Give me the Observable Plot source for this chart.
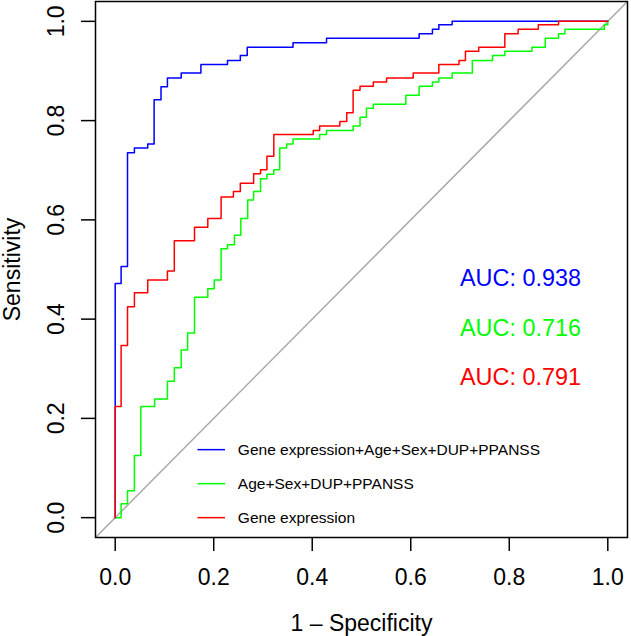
<!DOCTYPE html>
<html>
<head>
<meta charset="utf-8">
<script src="https://cdn.jsdelivr.net/npm/d3@7"></script>
<script src="https://cdn.jsdelivr.net/npm/@observablehq/plot@0.6"></script>
<style>
  html, body { margin: 0; padding: 0; background: #ffffff; }
</style>
</head>
<body>
<div id="chart"></div>
<script>
// ---- Data ----
const seriesNames = ["Gene expression+Age+Sex+DUP+PPANSS", "Age+Sex+DUP+PPANSS", "Gene expression"];
const seriesColors = ["#0000FF", "#00FF00", "#FF0000"];
const aucValues = [0.938, 0.716, 0.791];
const tickValues = [0, 0.2, 0.4, 0.6, 0.8, 1.0];

// ROC step corners (1 - specificity, sensitivity)
const fullFpr  = [0, 0.012, 0.025, 0.039, 0.066, 0.079, 0.093, 0.106, 0.134, 0.174, 0.228, 0.254, 0.268, 0.361, 0.429, 0.617, 0.644, 0.657, 0.684, 1.0];
const fullSens = [0, 0.472, 0.506, 0.735, 0.745, 0.753, 0.842, 0.868, 0.886, 0.896, 0.913, 0.921, 0.931, 0.948, 0.957, 0.966, 0.975, 0.984, 0.993, 1.0];

const clinFpr  = [0, 0.012, 0.025, 0.039, 0.052, 0.080, 0.106, 0.120, 0.134, 0.147, 0.161, 0.188, 0.201, 0.215, 0.228, 0.242, 0.255, 0.269, 0.281, 0.295, 0.308, 0.322, 0.334, 0.348, 0.361, 0.415, 0.429, 0.483, 0.497, 0.510, 0.524, 0.590, 0.617, 0.644, 0.657, 0.684, 0.725, 0.766, 0.791, 0.846, 0.873, 0.900, 0.913, 0.993, 1.0, 1.0];
const clinSens = [0, 0, 0.028, 0.054, 0.125, 0.224, 0.239, 0.275, 0.302, 0.338, 0.372, 0.444, 0.461, 0.479, 0.542, 0.550, 0.569, 0.603, 0.640, 0.657, 0.683, 0.692, 0.701, 0.745, 0.753, 0.763, 0.772, 0.780, 0.789, 0.807, 0.825, 0.833, 0.851, 0.869, 0.878, 0.886, 0.896, 0.921, 0.931, 0.940, 0.948, 0.966, 0.975, 0.984, 0.993, 1.0];

const geneFpr  = [0, 0.012, 0.025, 0.039, 0.066, 0.106, 0.120, 0.161, 0.188, 0.215, 0.240, 0.254, 0.281, 0.295, 0.308, 0.322, 0.402, 0.415, 0.456, 0.470, 0.483, 0.497, 0.524, 0.551, 0.605, 0.657, 0.698, 0.711, 0.738, 0.791, 0.818, 0.859, 0.900, 1.0];
const geneSens = [0, 0.224, 0.347, 0.425, 0.453, 0.479, 0.497, 0.558, 0.585, 0.603, 0.646, 0.657, 0.674, 0.693, 0.701, 0.728, 0.772, 0.780, 0.789, 0.798, 0.816, 0.861, 0.869, 0.878, 0.886, 0.896, 0.913, 0.921, 0.940, 0.948, 0.975, 0.984, 0.993, 1.0];

// ---- Tables built from the arrays ----
const curves = [[fullFpr, fullSens], [clinFpr, clinSens], [geneFpr, geneSens]];
const rocRows = [];
curves.forEach(([fx, sy], i) => fx.forEach((f, j) => rocRows.push({series: seriesNames[i], fpr: f, sens: sy[j]})));

// layout (data units)
const axisExtent = [-0.04, 1.04];
const aucX = 0.7, aucTop = 0.5, aucStep = 0.1;
const legendLineX1 = 0.168, legendLineX2 = 0.224, legendTextX = 0.249, legendBottom = 0.0, legendStep = 0.0685;

const aucRows = seriesNames.map((s, i) => ({series: s, auc: aucValues[i], y: aucTop - i * aucStep}));
const legendRows = seriesNames.map((s, i) => ({series: s, y: legendBottom + (seriesNames.length - 1 - i) * legendStep}));

const fmt1 = d3.format(".1f");
const font = "'Liberation Sans', Arial, Helvetica, sans-serif";

const chart = Plot.plot({
  width: 631,
  height: 636,
  marginLeft: 95,
  marginRight: 4,
  marginTop: 1,
  marginBottom: 99,
  style: {fontFamily: font, background: "#ffffff", color: "#000000", overflow: "visible"},
  x: {domain: axisExtent},
  y: {domain: axisExtent},
  color: {domain: seriesNames, range: seriesColors},
  marks: [
    Plot.line(axisExtent, {x: d => d, y: d => d, stroke: "#A9A9A9", strokeWidth: 1.5, clip: true}),
    Plot.line(rocRows, {x: "fpr", y: "sens", z: "series", stroke: "series", curve: "step-before", strokeWidth: 1.5}),
    Plot.frame({stroke: "#000000", strokeWidth: 1.5}),
    Plot.axisX({ticks: tickValues, tickFormat: fmt1, tickSize: 14, tickPadding: 17, fontSize: 23, strokeWidth: 1.5,
      label: "1 \u2013 Specificity", labelAnchor: "center", labelOffset: 93, labelArrow: "none"}),
    Plot.axisY({ticks: tickValues, tickFormat: fmt1, tickSize: 14, tickPadding: 18, tickRotate: -90, fontSize: 23, strokeWidth: 1.5,
      label: "Sensitivity", labelAnchor: "center", labelOffset: 92, labelArrow: "none"}),
    Plot.text(aucRows, {x: aucX, y: "y", text: d => "AUC: " + d3.format(".3f")(d.auc), fill: "series",
      textAnchor: "start", lineAnchor: "top", fontSize: 23.4}),
    Plot.ruleY(legendRows, {x1: legendLineX1, x2: legendLineX2, y: "y", stroke: "series", strokeWidth: 1.5}),
    Plot.text(legendRows, {x: legendTextX, y: "y", text: "series", fill: "#000000", textAnchor: "start", fontSize: 15.5})
  ]
});
document.getElementById("chart").appendChild(chart);
</script>
</body>
</html>
